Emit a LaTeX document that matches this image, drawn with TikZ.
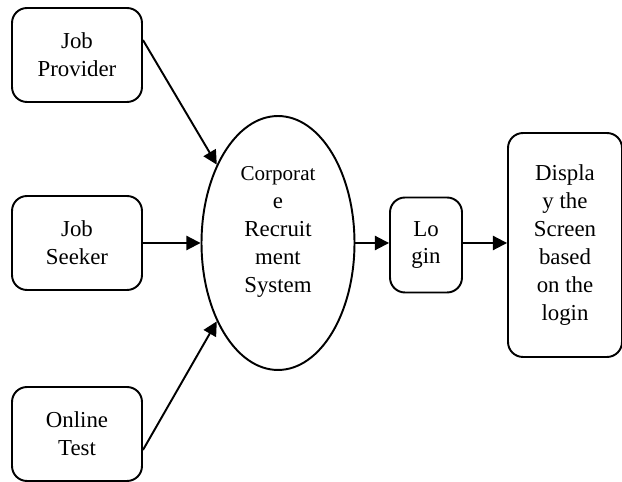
\documentclass[tikz,border=0pt]{standalone}
\usepackage{fontspec}
\setmainfont{Liberation Serif}
\usetikzlibrary{arrows.meta,positioning,shapes.geometric}

\begin{document}
\begin{tikzpicture}[
  x=0.02cm, y=-0.02cm,
  every node/.style={font=\fontsize{13}{15.9}\selectfont, align=center, inner sep=0pt},
  actor/.style={draw, line width=1.1pt, rounded corners=8.5pt, minimum width=2.6cm,
                minimum height=1.88cm},
  process/.style={draw, line width=1.1pt, ellipse, minimum width=3.06cm, minimum height=5.08cm},
  arrow/.style={-{Triangle[length=8pt,width=8pt]}, line width=1.1pt}
]
\useasboundingbox (0,0) rectangle (622,482);
\node[actor] (provider) at (77,55)   {Job\\Provider};
\node[actor] (seeker)   at (77,243)  {Job\\Seeker};
\node[actor] (test)     at (77,434)  {Online\\Test};
\node[process] (crs)    at (278,243) {};
\node (crstext) at (278,232) {\fontsize{12}{14.5}\selectfont Corporat\\e\\
  \fontsize{13}{15.9}\selectfont Recruit\\ment\\System};
\node[actor, minimum width=1.44cm, minimum height=1.9cm] (login) at (426,245) {Lo\\gin};
\node[actor, minimum width=2.28cm, minimum height=4.48cm] (display) at (565,245)
  {Displa\\y the\\Screen\\based\\on the\\login};

\draw[arrow] ([yshift=0.3cm]provider.east) -- (crs.128);
\draw[arrow] (seeker.east) -- (crs.west);
\draw[arrow] ([yshift=-0.32cm]test.east) -- (crs.232);
\foreach \from/\to in {crs/login, login/display}
  \draw[arrow] (crs.east -| \from.east) -- (crs.east -| \to.west);
\end{tikzpicture}
\end{document}
